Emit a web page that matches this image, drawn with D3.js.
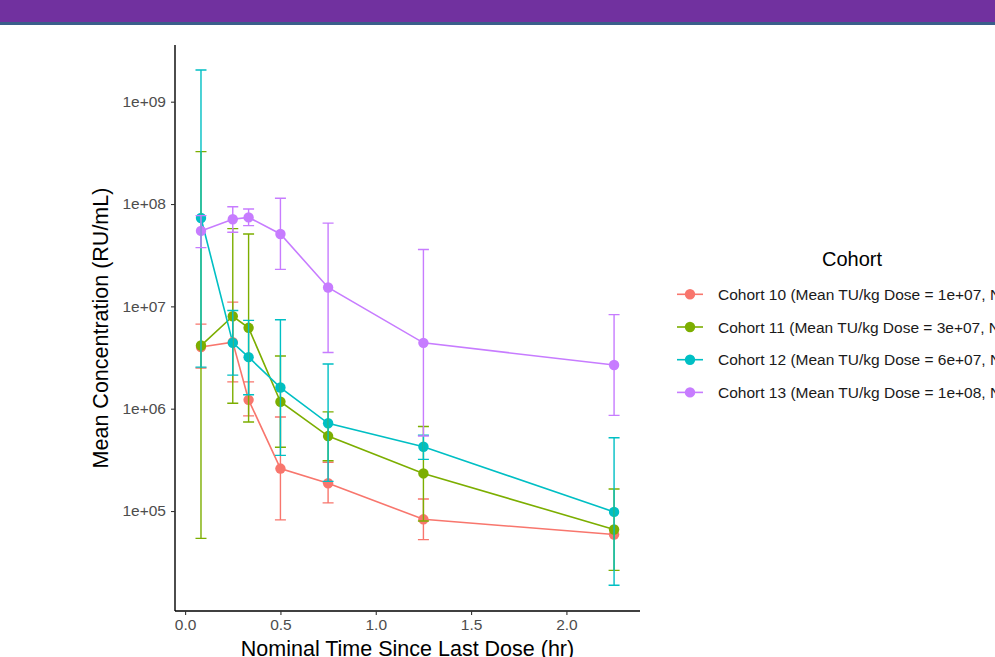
<!DOCTYPE html>
<html>
<head>
<meta charset="utf-8">
<script src="https://cdn.jsdelivr.net/npm/d3@7"></script>
<style>
  html, body { margin: 0; padding: 0; overflow: hidden; background: #fff; }
  svg { display: block; font-family: "Liberation Sans", Arial, sans-serif; }
</style>
</head>
<body>
<div id="chart"></div>
<script>
// nominal times (hr)
const times = [0.0833, 0.25, 0.333, 0.5, 0.75, 1.25, 2.25];

const cohortNames = [
    "Cohort 10 (Mean TU/kg Dose = 1e+07, N = 3)",
    "Cohort 11 (Mean TU/kg Dose = 3e+07, N = 3)",
    "Cohort 12 (Mean TU/kg Dose = 6e+07, N = 3)",
    "Cohort 13 (Mean TU/kg Dose = 1e+08, N = 3)"
];

const mean10 = [4.0e6, 4.47e6, 1.22e6, 2.6e5, 1.87e5, 8.3e4, 5.9e4];
const low10  = [2.5e6, 1.83e6, 8.5e5, 8.2e4, 1.2e5, 5.25e4, null];
const high10 = [6.7e6, 1.1e7, 1.83e6, 8.3e5, 3.0e5, 1.31e5, null];

const mean11 = [4.14e6, 8.0e6, 6.17e6, 1.17e6, 5.4e5, 2.33e5, 6.6e4];
const low11  = [5.4e4, 1.13e6, 7.4e5, 4.2e5, 3.1e5, 8.0e4, 2.63e4];
const high11 = [3.25e8, 5.75e7, 5.1e7, 3.27e6, 9.3e5, 6.7e5, 1.64e5];

const mean12 = [7.3e7, 4.4e6, 3.19e6, 1.61e6, 7.2e5, 4.25e5, 9.8e4];
const low12  = [2.55e6, 2.13e6, 1.37e6, 3.5e5, 1.95e5, 3.2e5, 1.88e4];
const high12 = [2.04e9, 9.1e6, 7.3e6, 7.4e6, 2.73e6, 5.5e5, 5.2e5];

const mean13 = [5.46e7, 7.1e7, 7.4e7, 5.1e7, 1.53e7, 4.4e6, 2.67e6];
const low13  = [3.75e7, 5.3e7, 6.15e7, 2.3e7, 3.54e6, 5.4e5, 8.6e5];
const high13 = [7.7e7, 9.4e7, 8.95e7, 1.14e8, 6.5e7, 3.6e7, 8.3e6];

const xTicks = [0, 0.5, 1, 1.5, 2];
const yTicks = [1e5, 1e6, 1e7, 1e8, 1e9];

const colors = ["#F8766D", "#7CAE00", "#00BFC4", "#C77CFF"];

const series = [
    { name: cohortNames[0], mean: mean10, low: low10, high: high10 },
    { name: cohortNames[1], mean: mean11, low: low11, high: high11 },
    { name: cohortNames[2], mean: mean12, low: low12, high: high12 },
    { name: cohortNames[3], mean: mean13, low: low13, high: high13 }
].map((s, i) => ({
    ...s,
    color: colors[i],
    points: times.map((t, j) => ({ t: t, mean: s.mean[j], low: s.low[j], high: s.high[j] }))
}));

const width = 995;
const height = 657;
const panel = { left: 175, right: 640, top: 45, bottom: 611 };

const svg = d3.select("#chart")
    .append("svg")
    .attr("width", width)
    .attr("height", height);

// header band
svg.append("rect").attr("x", 0).attr("y", 0).attr("width", width).attr("height", 22).attr("fill", "#71319F");
svg.append("rect").attr("x", 0).attr("y", 22).attr("width", width).attr("height", 3).attr("fill", "#3A5E8A");

const x = d3.scaleLinear()
    .domain([-0.053, 2.386])
    .range([panel.left, panel.right]);

const y = d3.scaleLog()
    .domain([Math.pow(10, 4.023), Math.pow(10, 9.554)])
    .range([panel.bottom, panel.top]);

// axes
const xAxis = svg.append("g")
    .attr("transform", `translate(0,${panel.bottom})`)
    .call(d3.axisBottom(x).tickValues(xTicks).tickFormat(d3.format(".1f")).tickSize(4).tickPadding(4));

const yAxis = svg.append("g")
    .attr("transform", `translate(${panel.left},0)`)
    .call(d3.axisLeft(y).tickValues(yTicks).tickFormat(d => d.toExponential(0).replace("e+", "e+0")).tickSize(4).tickPadding(5));

[xAxis, yAxis].forEach(g => {
    g.select(".domain").attr("stroke", "#000").attr("stroke-width", 1.4);
    g.selectAll(".tick line").attr("stroke", "#333").attr("stroke-width", 1.1);
    g.selectAll(".tick text")
        .attr("fill", "#4D4D4D")
        .style("font-size", "15.5px")
        .style("font-family", "Liberation Sans, Arial, sans-serif");
});
xAxis.select(".domain").attr("d", `M${panel.left},0H${panel.right}`);
yAxis.select(".domain").attr("d", `M0,${panel.top}V${panel.bottom}`);

// axis titles
svg.append("text")
    .attr("x", (panel.left + panel.right) / 2)
    .attr("y", 656)
    .attr("text-anchor", "middle")
    .style("font-size", "21.5px")
    .text("Nominal Time Since Last Dose (hr)");

svg.append("text")
    .attr("transform", `translate(108,${(panel.top + panel.bottom) / 2}) rotate(-90)`)
    .attr("text-anchor", "middle")
    .style("font-size", "21.5px")
    .text("Mean Concentration (RU/mL)");

const line = d3.line()
    .x(d => x(d.t))
    .y(d => y(d.mean));

// lines
svg.append("g").selectAll("path")
    .data(series)
    .enter()
    .append("path")
    .attr("d", d => line(d.points))
    .attr("fill", "none")
    .attr("stroke", d => d.color)
    .attr("stroke-width", 1.6);

// points
series.forEach(s => {
    svg.append("g").selectAll("circle")
        .data(s.points)
        .enter()
        .append("circle")
        .attr("cx", d => x(d.t))
        .attr("cy", d => y(d.mean))
        .attr("r", 5.2)
        .attr("fill", s.color);
});

// error bars
const capHalf = 5.5;
series.forEach(s => {
    const eb = svg.append("g")
        .attr("stroke", s.color)
        .attr("stroke-width", 1.4)
        .attr("fill", "none");
    const bars = s.points.filter(d => d.low != null && d.high != null);
    eb.selectAll("path")
        .data(bars)
        .enter()
        .append("path")
        .attr("d", d => {
            const cx = x(d.t);
            const y1 = y(d.high);
            const y2 = y(d.low);
            return `M${cx - capHalf},${y1}H${cx + capHalf}M${cx},${y1}V${y2}M${cx - capHalf},${y2}H${cx + capHalf}`;
        });
});

// legend
const legend = svg.append("g");
legend.append("text")
    .attr("x", 852)
    .attr("y", 266)
    .attr("text-anchor", "middle")
    .style("font-size", "20px")
    .text("Cohort");

const rows = legend.selectAll(".row")
    .data(series)
    .enter()
    .append("g")
    .attr("transform", (d, i) => `translate(0,${294.3 + i * 32.7})`);

rows.append("line")
    .attr("x1", 677)
    .attr("x2", 703)
    .attr("stroke", d => d.color)
    .attr("stroke-width", 1.6);

rows.append("circle")
    .attr("cx", 690)
    .attr("r", 5.2)
    .attr("fill", d => d.color);

rows.append("text")
    .attr("x", 718)
    .attr("dy", "0.36em")
    .style("font-size", "15.5px")
    .attr("fill", "#1a1a1a")
    .text(d => d.name);
</script>
</body>
</html>
